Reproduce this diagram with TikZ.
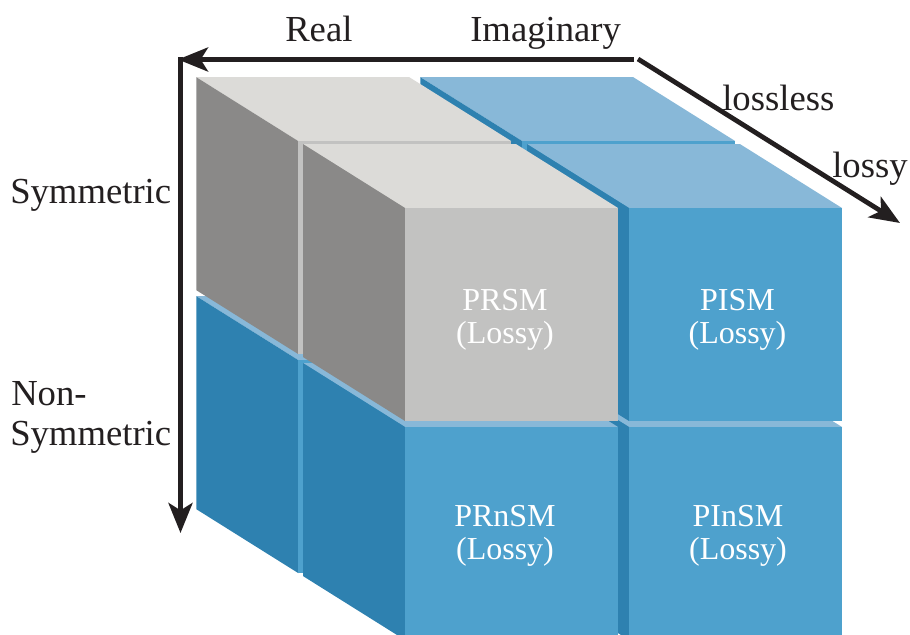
\documentclass[tikz,border=0pt]{standalone}
\usepackage{fontspec}
\setmainfont{Liberation Serif}
\usetikzlibrary{arrows.meta}

\definecolor{grayTop}{HTML}{DCDBD8}
\definecolor{grayFront}{HTML}{C2C2C1}
\definecolor{graySide}{HTML}{8A8988}
\definecolor{blueTop}{HTML}{88B8D8}
\definecolor{blueFront}{HTML}{4EA1CD}
\definecolor{blueSide}{HTML}{2E81B0}
\definecolor{axisInk}{HTML}{231F20}

% One block of the 2x2x2 cube: front-top-left corner (X,Y,Z), then the
% colours of its top, front and left faces (the three faces in view).
\newcommand\cubeblock[6]{%
  \fill[#4] (#1,#2,#3) -- ++(213,0,0) -- ++(0,0,213) -- ++(-213,0,0) -- cycle;
  \fill[#6] (#1,#2,#3) -- ++(0,213,0) -- ++(0,0,213) -- ++(0,-213,0) -- cycle;
  \fill[#5] (#1,#2,#3) -- ++(213,0,0) -- ++(0,213,0) -- ++(-213,0,0) -- cycle;
}

\begin{document}
\begin{tikzpicture}[x=0.75pt,y=-0.75pt,z={(-0.359pt,0.225pt)},
  axis/.style={line width=3.6pt, draw=axisInk},
  headtip/.style={-{Stealth[length=22.5pt,width=18pt,inset=5.5pt]}},
  axislabel/.style={font=\fontsize{27.5}{30}\selectfont, text=axisInk,
    inner sep=0pt, anchor=base west},
  celllabel/.style={font=\fontsize{24}{24.75}\selectfont, text=white,
    align=center, inner sep=0pt}]

\useasboundingbox (0,0) rectangle (910,635);
\clip (0,0) rectangle (910,635);

% back layer (lossless): bottom row first, right column before left
\cubeblock{629}{427}{223}{blueTop}{blueFront}{blueSide}
\cubeblock{405}{427}{223}{blueTop}{blueFront}{blueSide}
\cubeblock{629}{208}{223}{blueTop}{blueFront}{blueSide}
\cubeblock{405}{208}{223}{grayTop}{grayFront}{graySide}

% front layer (lossy)
\cubeblock{629}{427}{0}{blueTop}{blueFront}{blueSide}
\cubeblock{405}{427}{0}{blueTop}{blueFront}{blueSide}
\cubeblock{629}{208}{0}{blueTop}{blueFront}{blueSide}
\cubeblock{405}{208}{0}{grayTop}{grayFront}{graySide}

% cell labels
\node[celllabel] (prsm)  at (505,320) {PRSM\\(Lossy)};
\node[celllabel] (pism)  at (737.5,320) {PISM\\(Lossy)};
\node[celllabel] (prnsm) at (505,536) {PRnSM\\(Lossy)};
\node[celllabel] (pinsm) at (738,536) {PInSM\\(Lossy)};

% axes
\coordinate (origin)  at (180.5,57);
\coordinate (hStart)  at (634,59.5);
\coordinate (hTip)    at (178,59.5);
\coordinate (vTip)    at (180.5,533);
\coordinate (dStart)  at (638,59);
\coordinate (dTip)    at (900,223);

\draw[axis, headtip] (hStart) -- (hTip);
\draw[axis, headtip] (origin) -- (vTip);
\draw[axis, headtip] (dStart) -- (dTip);

% axis labels
\node[axislabel] (real)     at (285,42)  {Real};
\node[axislabel] (imag)     at (470,42)  {Imaginary};
\node[axislabel] (sym)      at (10,203)  {Symmetric};
\node[axislabel] (nonA)     at (11,405)  {Non-};
\node[axislabel] (nonB)     at (10,445)  {Symmetric};
\node[axislabel] (lossless) at (722,110) {lossless};
\node[axislabel] (lossy)    at (832,177) {lossy};
\end{tikzpicture}
\end{document}
